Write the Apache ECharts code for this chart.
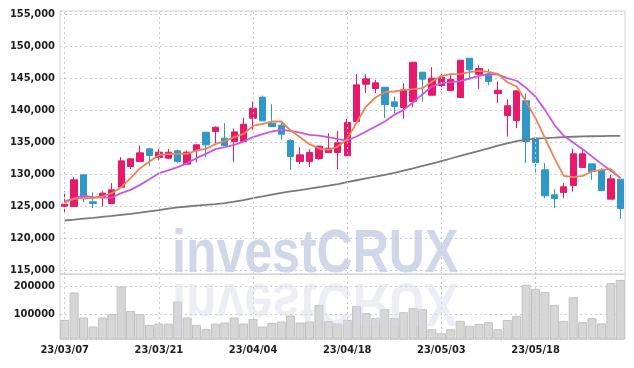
<!DOCTYPE html>
<html><head><meta charset="utf-8">
<script src="https://cdn.jsdelivr.net/npm/echarts@6/dist/echarts.min.js"></script>
<style>html,body{margin:0;padding:0;background:#fff}#c{width:634px;height:368px}</style>
</head><body><div id="c"></div>
<script>
const dates = ["23/03/07","23/03/08","23/03/09","23/03/10","23/03/13","23/03/14","23/03/15","23/03/16","23/03/17","23/03/20",
"23/03/21","23/03/22","23/03/23","23/03/24","23/03/27","23/03/28","23/03/29","23/03/30","23/03/31","23/04/03",
"23/04/04","23/04/05","23/04/06","23/04/07","23/04/10","23/04/11","23/04/12","23/04/13","23/04/14","23/04/17",
"23/04/18","23/04/19","23/04/20","23/04/21","23/04/24","23/04/25","23/04/26","23/04/27","23/04/28","23/05/02",
"23/05/03","23/05/04","23/05/08","23/05/09","23/05/10","23/05/11","23/05/12","23/05/15","23/05/16","23/05/17",
"23/05/18","23/05/19","23/05/22","23/05/23","23/05/24","23/05/25","23/05/26","23/05/30","23/05/31","23/06/01"];
const openP  = [125000,124950,129900,125680,126510,125420,127970,131200,131980,133960,132600,132500,133650,131560,133700,136560,136670,135630,135100,135100,138750,142030,137970,137660,135260,131980,131980,132450,133390,133390,132870,138230,144060,143390,143590,141300,140420,141350,145940,142340,143850,143070,141980,148120,145630,145630,142600,139170,138390,141460,135630,130680,126770,127140,128230,131040,131610,130570,126100,129220];
const closeP = [125310,129120,126150,125420,127030,127550,132080,132400,133330,132920,133440,133440,131980,133440,134580,134580,137340,134480,136610,137810,140310,138330,137450,136250,132760,133020,133390,134380,134060,134900,138070,143960,144900,144270,140890,140570,143180,147500,144840,145000,145160,144840,147810,146300,146510,144480,143120,140680,143020,135100,131820,126620,126200,128020,133180,133180,130420,127450,129270,124640];
const lowP   = [123900,124950,125630,124690,124950,125420,127970,130830,131880,131300,132140,132340,131720,131560,131820,132660,134740,134480,131880,135100,136930,138330,137450,135360,130680,131560,131090,132240,133390,130780,132870,138230,142660,142660,138750,139530,138650,140470,141350,142340,143180,143070,141980,144840,143330,143900,141090,135890,137190,131720,130050,126250,124690,126250,127290,131040,129120,127450,126100,123020];
const highP  = [127300,129530,129900,127140,127340,128590,132660,132400,134480,134120,133960,133960,133800,133700,134740,136560,137450,137970,137130,138850,141350,142290,140940,138070,135470,134220,133910,134480,136410,136770,138640,145630,145630,144740,143590,142140,144220,147500,145940,146720,145780,145630,147810,148120,147030,146460,144480,141720,143020,142660,135630,131720,127660,128590,134010,133800,131610,130940,129900,129220];
const ma5  = [125570,126150,126300,126250,126510,127030,127970,129380,130940,131980,132970,133130,133180,133180,133700,133960,134690,135160,135780,136300,137550,137860,138230,138230,136820,135780,134690,134010,133800,134320,135470,138070,140570,141980,142810,142920,143180,143280,143440,144480,145360,145630,145680,145940,146150,145990,145680,144370,143700,141350,138750,135630,132500,129740,129530,129740,130420,130680,130780,129380];
const ma10 = [125730,126250,126620,126410,126350,126350,127030,127550,128330,129220,130160,130580,131090,131720,132500,133180,133910,134220,134580,135100,135780,136250,136670,136930,136770,136510,136150,136040,135780,135470,135260,135890,136670,137450,138230,139270,140050,141200,142500,143700,144220,144370,144530,144950,145360,145630,145570,145000,144600,143500,142100,140050,137710,135990,134950,133910,132760,131610,130520,129380];
const ma60 = [122760,122900,123050,123180,123330,123480,123640,123800,123980,124180,124380,124600,124820,124950,125080,125200,125330,125480,125700,125950,126250,126520,126800,127080,127300,127520,127750,127980,128200,128450,128750,129050,129330,129600,129900,130200,130550,130900,131280,131650,132050,132450,132850,133250,133650,134050,134450,134800,135150,135400,135550,135620,135700,135800,135850,135900,135930,135950,135970,135990];
const volume = [79500,178300,88000,55400,88000,100000,200000,112000,100000,61400,66000,66000,145800,88000,61400,47000,66000,70000,88000,66000,83100,55400,68700,73500,95200,70000,73500,133700,76000,67000,79500,130000,103600,85500,118000,85500,107000,121700,118000,45800,31300,45800,76000,58000,65000,71000,45800,79500,94000,206000,191500,179500,133700,76000,161400,71000,85500,67000,212000,224000];
const markIdx = [0,10,20,30,40,50];

const UP = '#e8196a', DOWN = '#2f98c9';
const FONT = 'DejaVu Sans Condensed';
const gridLine = {show:true, lineStyle:{color:'#c9cedd', type:[2,3], width:1}};
const vLines = {symbol:['none','none'], silent:true, label:{show:false},
  lineStyle:{color:'#c9cedd', type:[2,3], width:1},
  data: markIdx.map(i => ({xAxis: dates[i]}))};
const lbl = {color:'#1e1e1e', fontFamily:FONT, fontSize:11, fontWeight:'bold'};

const chart = echarts.init(document.getElementById('c'), null, {renderer:'canvas'});
chart.setOption({
  animation:false,
  grid:[
    {left:60, right:9, top:11, height:263, show:true, borderColor:'#d3d5dd', borderWidth:1},
    {left:60, right:9, top:274, height:65, show:true, borderColor:'#d3d5dd', borderWidth:1}
  ],
  xAxis:[
    {type:'category', data:dates, gridIndex:0, boundaryGap:true, axisLine:{show:false}, axisTick:{show:false}, axisLabel:{show:false}, splitLine:{show:false}},
    {type:'category', data:dates, gridIndex:1, boundaryGap:true, axisLine:{show:false}, axisTick:{show:false}, splitLine:{show:false},
     axisLabel:Object.assign({interval:9, margin:6}, lbl)}
  ],
  yAxis:[
    {type:'value', gridIndex:0, min:114400, max:155500, splitNumber:8, axisLine:{show:false}, axisTick:{show:false},
     splitLine:gridLine,
     axisLabel:Object.assign({showMinLabel:false, showMaxLabel:false, margin:5,
       formatter:v => (v % 5000 === 0 ? v.toLocaleString('en-US') : '')}, lbl)},
    {type:'value', gridIndex:1, min:10500, max:245000, splitNumber:2, axisLine:{show:false}, axisTick:{show:false},
     splitLine:gridLine,
     axisLabel:Object.assign({showMinLabel:false, showMaxLabel:false, margin:5,
       formatter:v => (v % 100000 === 0 ? String(v) : '')}, lbl)}
  ],
  series:[
    {type:'candlestick', xAxisIndex:0, yAxisIndex:0, barWidth:'72%',
     data: dates.map((d,i) => [openP[i], closeP[i], lowP[i], highP[i]]),
     itemStyle:{color:UP, color0:DOWN, borderColor:UP, borderColor0:DOWN, borderWidth:1},
     markLine: vLines, z:3},
    {type:'line', xAxisIndex:0, yAxisIndex:0, data:ma60, showSymbol:false, smooth:false, lineStyle:{color:'#7a7a7a', width:1.8}, z:4},
    {type:'line', xAxisIndex:0, yAxisIndex:0, data:ma10, showSymbol:false, smooth:false, lineStyle:{color:'#c957e6', width:1.8}, z:4},
    {type:'line', xAxisIndex:0, yAxisIndex:0, data:ma5, showSymbol:false, smooth:false, lineStyle:{color:'#ee844f', width:1.8}, z:5},
    {type:'bar', xAxisIndex:1, yAxisIndex:1, data:volume, barCategoryGap:'4%',
     itemStyle:{color:'#d6d6d6', borderColor:'#c2c2c2', borderWidth:1}, markLine: vLines, z:2}
  ],
  graphic:[
    {type:'text', x:172, y:225, scaleX:0.82, z:100, silent:true,
     style:{text:'investCRUX', font:'bold 61px "Liberation Sans"', fill:'rgba(192,201,226,0.75)'}},
    {type:'text', x:172, y:331, scaleX:0.82, scaleY:-1, z:100, silent:true,
     style:{text:'investCRUX', font:'bold 61px "Liberation Sans"', fill:'rgba(215,215,235,0.45)'}}
  ]
});
</script></body></html>
